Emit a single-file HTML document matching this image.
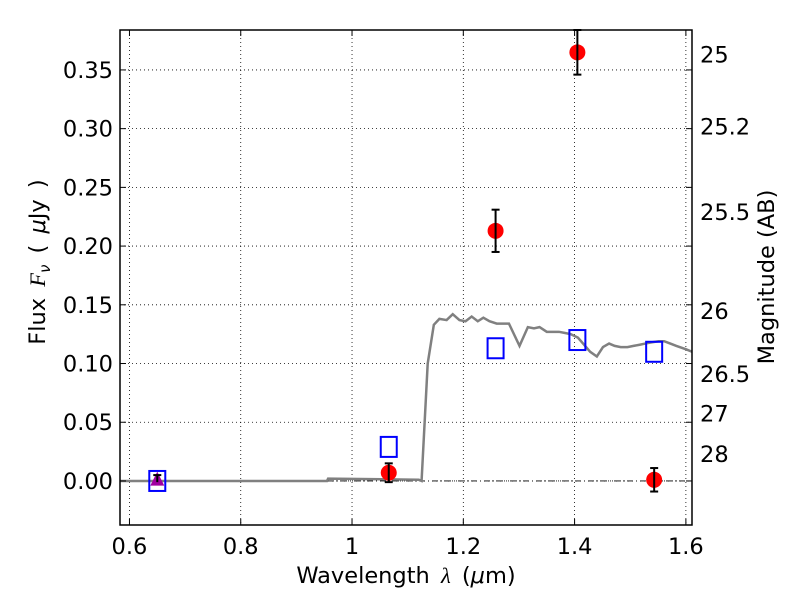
<!DOCTYPE html>
<html><head><meta charset="utf-8"><style>
body{margin:0;background:#fff;}
svg{display:block;font-family:"DejaVu Sans","Liberation Sans",sans-serif;}
</style></head><body>
<svg id="chart" width="800" height="600">
<rect x="0" y="0" width="800" height="600" fill="#fff"/>
<g id="grid"></g>
<g id="marks"></g>
<g id="axes"></g>
</svg>
<script>
const xTicks=[0.6,0.8,1.0,1.2,1.4,1.6];
const xTickLabels=["0.6","0.8","1","1.2","1.4","1.6"];
const yTicks=[0,0.05,0.10,0.15,0.20,0.25,0.30,0.35];
const yTickLabels=["0.00","0.05","0.10","0.15","0.20","0.25","0.30","0.35"];
const magTicks=[25,25.2,25.5,26,26.5,27,28];
const magLabels=["25","25.2","25.5","26","26.5","27","28"];
const modelLam=[0.583,0.955,0.957,1.12,1.125,1.136,1.147,1.157,1.170,1.181,1.193,1.204,1.215,1.226,1.236,1.247,1.260,1.271,1.282,1.301,1.316,1.327,1.337,1.350,1.361,1.372,1.383,1.393,1.406,1.417,1.428,1.440,1.451,1.462,1.472,1.483,1.495,1.506,1.517,1.527,1.538,1.551,1.561,1.572,1.583,1.601,1.611];
const modelFlux=[0,0,0.002,0.001,0,0.1,0.133,0.138,0.137,0.142,0.137,0.136,0.140,0.136,0.139,0.136,0.134,0.134,0.134,0.115,0.131,0.130,0.131,0.127,0.127,0.127,0.126,0.125,0.122,0.116,0.110,0.106,0.114,0.117,0.115,0.114,0.114,0.115,0.116,0.117,0.118,0.119,0.119,0.117,0.115,0.112,0.110];
const obsLam=[1.066,1.258,1.405,1.543];
const obsFlux=[0.007,0.213,0.365,0.001];
const obsErr=[0.008,0.018,0.019,0.010];
const synLam=[0.65,1.066,1.258,1.405,1.543];
const synFlux=[0,0.029,0.113,0.120,0.110];
const triLam=[0.65];
const triFlux=[0.002];
const triErr=[0.003];

const L=120,R=692,T=30,B=525;
const x0=0.583,x1=1.611,y0=-0.0375,y1=0.384;
const X=v=>L+(v-x0)/(x1-x0)*(R-L);
const Y=v=>B-(v-y0)/(y1-y0)*(B-T);
const NS="http://www.w3.org/2000/svg";
function mk(tag,attrs,parent,text){const e=document.createElementNS(NS,tag);for(const k in attrs)e.setAttribute(k,attrs[k]);if(text!==undefined)e.textContent=text;parent.appendChild(e);return e;}
const grid=document.getElementById('grid'),marks=document.getElementById('marks'),axes=document.getElementById('axes');

xTicks.forEach((t,i)=>{
 const g=mk('line',{x1:X(t),x2:X(t),y1:T,y2:B,stroke:'#000','stroke-width':0.8,'stroke-dasharray':'1,3'},grid);
 
 
 mk('line',{x1:X(t),x2:X(t),y1:B,y2:B-6,stroke:'#000'},axes);
 mk('line',{x1:X(t),x2:X(t),y1:T,y2:T+6,stroke:'#000'},axes);
 const l=mk('text',{x:X(t),y:B+29,'font-size':22.5,'text-anchor':'middle'},axes,xTickLabels[i]);
 
 
});
yTicks.forEach((t,i)=>{
 const g=mk('line',{x1:L,x2:R,y1:Y(t),y2:Y(t),stroke:'#000','stroke-width':0.8,'stroke-dasharray':'1,3'},grid);
 
 
 mk('line',{x1:L,x2:L+6,y1:Y(t),y2:Y(t),stroke:'#000'},axes);
 mk('line',{x1:R,x2:R-6,y1:Y(t),y2:Y(t),stroke:'#000'},axes);
 const l=mk('text',{x:L-7,y:Y(t)+8,'font-size':22.5,'text-anchor':'end'},axes,yTickLabels[i]);
 
 
});
magTicks.forEach((m,i)=>{
 const f=Math.pow(10,(23.9-m)/2.5);
 const l=mk('text',{x:R+8,y:Y(f)+8,'font-size':22.5},axes,magLabels[i]);
 
 
});
const z=mk('line',{x1:L,x2:R,y1:Y(0),y2:Y(0),stroke:'#000','stroke-width':0.8,'stroke-dasharray':'6,3,1,3'},grid);



const pl=mk('polyline',{points:modelLam.map((l,i)=>X(l)+','+Y(modelFlux[i])).join(' '),fill:'none',stroke:'#808080','stroke-width':2.5},marks);



synLam.forEach((l,i)=>{
 const r=mk('rect',{x:X(l)-8,y:Y(synFlux[i])-10,width:16,height:20,fill:'none',stroke:'#0000ff','stroke-width':2},marks);
 
 
});
triLam.forEach((l,i)=>{
 const cx=X(l),cy=Y(triFlux[i]);
 const t=mk('polygon',{points:`${cx-7},${cy+7} ${cx+7},${cy+7} ${cx},${cy-7}`,fill:'#a000a0'},marks);
 
 
 mk('line',{x1:cx,x2:cx,y1:Y(triFlux[i]+triErr[i]),y2:Y(triFlux[i]-triErr[i]),stroke:'#000','stroke-width':2},marks);
 mk('line',{x1:cx-4,x2:cx+4,y1:Y(triFlux[i]+triErr[i]),y2:Y(triFlux[i]+triErr[i]),stroke:'#000','stroke-width':2},marks);
});
obsLam.forEach((l,i)=>{
 const cx=X(l),cy=Y(obsFlux[i]);
 const c=mk('ellipse',{cx:cx,cy:cy,rx:8,ry:8,fill:'#ff0000'},marks);
 
 
 const ya=Y(obsFlux[i]+obsErr[i]),yb=Y(obsFlux[i]-obsErr[i]);
 const e=mk('line',{x1:cx,x2:cx,y1:ya,y2:yb,stroke:'#000','stroke-width':2},marks);
 
 
 mk('line',{x1:cx-4,x2:cx+4,y1:ya,y2:ya,stroke:'#000','stroke-width':2},marks);
 mk('line',{x1:cx-4,x2:cx+4,y1:yb,y2:yb,stroke:'#000','stroke-width':2},marks);
});
const fr=mk('rect',{x:L,y:T,width:R-L,height:B-T,fill:'none',stroke:'#000','stroke-width':1.5},axes);


const xt=mk('text',{x:406,y:583,'font-size':22.5,'text-anchor':'middle','word-spacing':'4'},axes,'');
xt.innerHTML='Wavelength  <tspan font-style="italic" font-family="Liberation Serif, serif">λ</tspan> (<tspan font-style="italic">μ</tspan>m)';


const yt=mk('text',{x:0,y:0,'font-size':22.5,'text-anchor':'middle','word-spacing':'4',transform:'translate(45,262) rotate(-90)'},axes,'');
yt.innerHTML='Flux  <tspan font-style="italic" font-family="Liberation Serif, serif">F</tspan><tspan font-style="italic" font-size="15" dy="5">ν</tspan><tspan dy="-5">  (  </tspan><tspan font-style="italic">μ</tspan>Jy )';


const rt=mk('text',{x:0,y:0,'font-size':22.5,'text-anchor':'middle',transform:'translate(774,277) rotate(-90)'},axes,'Magnitude (AB)');


</script>
</body></html>
